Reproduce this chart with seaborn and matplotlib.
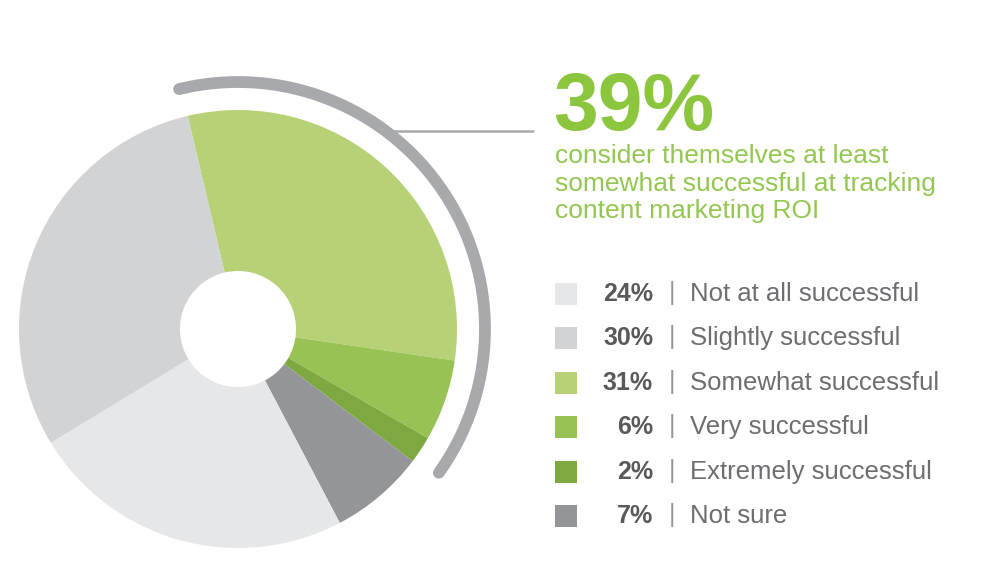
import numpy as np
import pandas as pd
import matplotlib
matplotlib.use("Agg")
import matplotlib.pyplot as plt
import seaborn as sns

# data (legend order)
categories = ["Not at all successful", "Slightly successful", "Somewhat successful",
              "Very successful", "Extremely successful", "Not sure"]
shares = [24, 30, 31, 6, 2, 7]
colors = ["#e6e7e8", "#d1d3d4", "#b7d276", "#98c354", "#7ea840", "#939598"]
headline_value = 39
headline_text = ["consider themselves at least",
                 "somewhat successful at tracking",
                 "content marketing ROI"]
# order the wedges are drawn in, clockwise from the top
pie_order = [2, 3, 4, 5, 0, 1]

df = pd.DataFrame({"category": categories, "share": shares, "color": colors})

sns.set_theme(style="white")
plt.rcParams["font.family"] = ["Liberation Sans", "DejaVu Sans"]

fig = plt.figure(figsize=(10, 5.63), dpi=100)
ax = fig.add_axes([0, 0, 1, 1])

cx, cy, R = 238, 234, 219
start = 103.3
pie_df = df.iloc[pie_order]
ax.pie(pie_df["share"], colors=pie_df["color"], startangle=start, counterclock=False,
       center=(cx, cy), radius=R, wedgeprops=dict(width=R * 0.735, linewidth=0),
       frame=True)
ax.set_xlim(0, 1000)
ax.set_ylim(0, 563)
ax.set_axis_off()

# gray arc around the successful slices
green_span = sum(shares[2:5]) * 3.6
theta = np.radians(np.linspace(start + 0.5, start - green_span + 1.5, 200))
ra = 247
ax.plot(cx + ra * np.cos(theta), cy + ra * np.sin(theta), color="#a7a9ac",
        lw=8.5, solid_capstyle="round")
ax.plot([392, 533], [432, 432], color="#a7a9ac", lw=1.8)

ax.text(553, 433, f"{headline_value}%", color="#8cc63f", fontsize=58, fontweight="bold",
        ha="left", va="baseline")
for i, line in enumerate(headline_text):
    ax.text(555, 400 - i * 27.5, line, color="#93c751", fontsize=19, ha="left",
            va="baseline")

# legend
ys = 269 - np.arange(len(categories)) * 44.4
sns.scatterplot(x=np.full(len(categories), 566), y=ys, hue=df["category"],
                palette=dict(zip(categories, colors)), marker="s", s=250,
                linewidth=0, legend=False, ax=ax)
for y, cat, sh in zip(ys, categories, shares):
    ax.text(653, y, f"{sh}%", color="#58595b", fontsize=18, fontweight="bold",
            ha="right", va="center")
    ax.text(672, y + 1, "|", color="#939598", fontsize=18, ha="center", va="center")
    ax.text(690, y, cat, color="#6d6e71", fontsize=18.5, ha="left", va="center")

fig.savefig("out.png", dpi=100, facecolor="white")
